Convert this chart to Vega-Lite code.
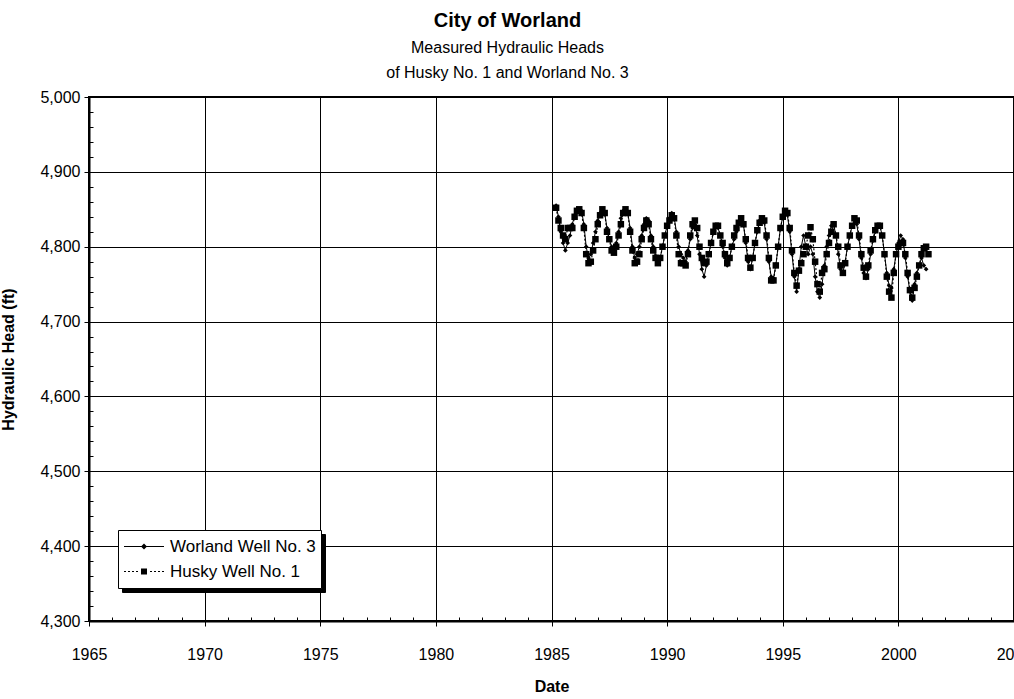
{
  "$schema": "https://vega.github.io/schema/vega-lite/v6.json",
  "width": 925,
  "height": 524,
  "autosize": {"type": "none"},
  "padding": {"left": 89, "top": 97, "right": 0, "bottom": 78},
  "background": "white",
  "config": {
    "view": {"stroke": "black", "strokeWidth": 2},
    "font": "Liberation Sans",
    "axis": {"labelFont": "Liberation Sans", "labelFontSize": 16, "labelColor": "black", "titleFont": "Liberation Sans", "titleFontSize": 16, "titleFontWeight": "bold", "titleColor": "black", "domainColor": "black", "domainWidth": 2, "tickColor": "black", "gridColor": "black", "gridWidth": 1, "labelOverlap": false, "labelBound": false, "labelFlush": false}
  },
  "title": {
    "text": "City of Worland",
    "subtitle": ["Measured Hydraulic Heads", "of Husky No. 1 and Worland No. 3"],
    "font": "Liberation Sans",
    "fontSize": 20,
    "fontWeight": "bold",
    "color": "black",
    "subtitleFont": "Liberation Sans",
    "subtitleFontSize": 16,
    "subtitleColor": "black",
    "subtitleLineHeight": 25,
    "subtitlePadding": 9,
    "anchor": "middle",
    "dx": -44,
    "offset": 8
  },
  "data": {"values": [
    {"year": 1985.2, "w": 4855, "h": 4852},
    {"year": 1985.3, "w": 4840, "h": 4835},
    {"year": 1985.4, "w": 4820, "h": 4825},
    {"year": 1985.5, "w": 4805, "h": 4815},
    {"year": 1985.6, "w": 4795, "h": 4810},
    {"year": 1985.7, "w": 4805, "h": 4825},
    {"year": 1985.8, "w": 4815, "h": 4825},
    {"year": 1985.9, "w": 4830, "h": 4825},
    {"year": 1986.0, "w": 4842, "h": 4840},
    {"year": 1986.1, "w": 4848, "h": 4848},
    {"year": 1986.2, "w": 4850, "h": 4850},
    {"year": 1986.3, "w": 4848, "h": 4845},
    {"year": 1986.4, "w": 4830, "h": 4825},
    {"year": 1986.5, "w": 4800, "h": 4790},
    {"year": 1986.6, "w": 4785, "h": 4778},
    {"year": 1986.7, "w": 4790, "h": 4780},
    {"year": 1986.8, "w": 4805, "h": 4795},
    {"year": 1986.9, "w": 4820, "h": 4810},
    {"year": 1987.0, "w": 4835, "h": 4830},
    {"year": 1987.1, "w": 4845, "h": 4842},
    {"year": 1987.2, "w": 4850, "h": 4850},
    {"year": 1987.3, "w": 4845, "h": 4845},
    {"year": 1987.4, "w": 4825, "h": 4820},
    {"year": 1987.5, "w": 4810, "h": 4810},
    {"year": 1987.6, "w": 4800, "h": 4795},
    {"year": 1987.7, "w": 4795, "h": 4792},
    {"year": 1987.8, "w": 4805, "h": 4800},
    {"year": 1987.9, "w": 4820, "h": 4815},
    {"year": 1988.0, "w": 4838, "h": 4830},
    {"year": 1988.1, "w": 4848, "h": 4845},
    {"year": 1988.2, "w": 4850, "h": 4850},
    {"year": 1988.3, "w": 4845, "h": 4845},
    {"year": 1988.4, "w": 4825, "h": 4820},
    {"year": 1988.5, "w": 4800, "h": 4795},
    {"year": 1988.6, "w": 4785, "h": 4778},
    {"year": 1988.7, "w": 4790, "h": 4780},
    {"year": 1988.8, "w": 4800, "h": 4790},
    {"year": 1988.9, "w": 4815, "h": 4810},
    {"year": 1989.0, "w": 4830, "h": 4825},
    {"year": 1989.1, "w": 4838, "h": 4835},
    {"year": 1989.2, "w": 4835, "h": 4830},
    {"year": 1989.3, "w": 4815, "h": 4810},
    {"year": 1989.4, "w": 4800, "h": 4795},
    {"year": 1989.5, "w": 4788, "h": 4785},
    {"year": 1989.6, "w": 4780, "h": 4778},
    {"year": 1989.7, "w": 4785, "h": 4785},
    {"year": 1989.8, "w": 4800, "h": 4800},
    {"year": 1989.9, "w": 4815, "h": 4815},
    {"year": 1990.0, "w": 4828, "h": 4828},
    {"year": 1990.1, "w": 4838, "h": 4835},
    {"year": 1990.2, "w": 4845, "h": 4842},
    {"year": 1990.3, "w": 4840, "h": 4838},
    {"year": 1990.4, "w": 4820, "h": 4815},
    {"year": 1990.5, "w": 4800, "h": 4790},
    {"year": 1990.6, "w": 4790, "h": 4778},
    {"year": 1990.7, "w": 4785, "h": 4778},
    {"year": 1990.8, "w": 4780, "h": 4775},
    {"year": 1990.9, "w": 4795, "h": 4790},
    {"year": 1991.0, "w": 4810, "h": 4815},
    {"year": 1991.1, "w": 4825, "h": 4830},
    {"year": 1991.2, "w": 4830, "h": 4835},
    {"year": 1991.3, "w": 4815, "h": 4825},
    {"year": 1991.4, "w": 4790, "h": 4800},
    {"year": 1991.5, "w": 4770, "h": 4785},
    {"year": 1991.6, "w": 4760, "h": 4778},
    {"year": 1991.7, "w": 4775, "h": 4780},
    {"year": 1991.8, "w": 4790, "h": 4790},
    {"year": 1991.9, "w": 4805, "h": 4805},
    {"year": 1992.0, "w": 4818, "h": 4820},
    {"year": 1992.1, "w": 4828, "h": 4828},
    {"year": 1992.2, "w": 4825, "h": 4828},
    {"year": 1992.3, "w": 4815, "h": 4815},
    {"year": 1992.4, "w": 4800, "h": 4805},
    {"year": 1992.5, "w": 4785, "h": 4790},
    {"year": 1992.6, "w": 4775, "h": 4778},
    {"year": 1992.7, "w": 4785, "h": 4785},
    {"year": 1992.8, "w": 4800, "h": 4800},
    {"year": 1992.9, "w": 4810, "h": 4815},
    {"year": 1993.0, "w": 4820, "h": 4825},
    {"year": 1993.1, "w": 4830, "h": 4832},
    {"year": 1993.2, "w": 4838, "h": 4838},
    {"year": 1993.3, "w": 4830, "h": 4830},
    {"year": 1993.4, "w": 4805, "h": 4810},
    {"year": 1993.5, "w": 4780, "h": 4785},
    {"year": 1993.6, "w": 4770, "h": 4772},
    {"year": 1993.7, "w": 4785, "h": 4785},
    {"year": 1993.8, "w": 4805, "h": 4805},
    {"year": 1993.9, "w": 4820, "h": 4822},
    {"year": 1994.0, "w": 4835, "h": 4832},
    {"year": 1994.1, "w": 4838, "h": 4838},
    {"year": 1994.2, "w": 4832, "h": 4835},
    {"year": 1994.3, "w": 4810, "h": 4815},
    {"year": 1994.4, "w": 4780, "h": 4785},
    {"year": 1994.5, "w": 4760, "h": 4755},
    {"year": 1994.6, "w": 4758, "h": 4755},
    {"year": 1994.7, "w": 4775, "h": 4775},
    {"year": 1994.8, "w": 4800, "h": 4800},
    {"year": 1994.9, "w": 4825, "h": 4825},
    {"year": 1995.0, "w": 4840, "h": 4840},
    {"year": 1995.1, "w": 4848, "h": 4848},
    {"year": 1995.2, "w": 4842, "h": 4845},
    {"year": 1995.3, "w": 4820, "h": 4825},
    {"year": 1995.4, "w": 4790, "h": 4795},
    {"year": 1995.5, "w": 4760, "h": 4765},
    {"year": 1995.6, "w": 4740, "h": 4748},
    {"year": 1995.7, "w": 4770, "h": 4768},
    {"year": 1995.8, "w": 4800, "h": 4778},
    {"year": 1995.9, "w": 4815, "h": 4790},
    {"year": 1996.0, "w": 4800, "h": 4800},
    {"year": 1996.1, "w": 4790, "h": 4815},
    {"year": 1996.2, "w": 4800, "h": 4826},
    {"year": 1996.3, "w": 4790, "h": 4810},
    {"year": 1996.4, "w": 4760, "h": 4780},
    {"year": 1996.5, "w": 4740, "h": 4750},
    {"year": 1996.6, "w": 4732, "h": 4740},
    {"year": 1996.7, "w": 4750, "h": 4765},
    {"year": 1996.8, "w": 4775, "h": 4770},
    {"year": 1996.9, "w": 4800, "h": 4790},
    {"year": 1997.0, "w": 4815, "h": 4805},
    {"year": 1997.1, "w": 4828, "h": 4820},
    {"year": 1997.2, "w": 4830, "h": 4830},
    {"year": 1997.3, "w": 4815, "h": 4815},
    {"year": 1997.4, "w": 4790, "h": 4800},
    {"year": 1997.5, "w": 4770, "h": 4775},
    {"year": 1997.6, "w": 4765, "h": 4765},
    {"year": 1997.7, "w": 4780, "h": 4778},
    {"year": 1997.8, "w": 4800, "h": 4800},
    {"year": 1997.9, "w": 4815, "h": 4815},
    {"year": 1998.0, "w": 4828, "h": 4828},
    {"year": 1998.1, "w": 4835, "h": 4838},
    {"year": 1998.2, "w": 4830, "h": 4835},
    {"year": 1998.3, "w": 4810, "h": 4815},
    {"year": 1998.4, "w": 4785, "h": 4790},
    {"year": 1998.5, "w": 4765, "h": 4772},
    {"year": 1998.6, "w": 4758, "h": 4760},
    {"year": 1998.7, "w": 4770, "h": 4775},
    {"year": 1998.8, "w": 4790, "h": 4795},
    {"year": 1998.9, "w": 4808, "h": 4810},
    {"year": 1999.0, "w": 4820, "h": 4822},
    {"year": 1999.1, "w": 4828, "h": 4828},
    {"year": 1999.2, "w": 4828, "h": 4828},
    {"year": 1999.3, "w": 4815, "h": 4815},
    {"year": 1999.4, "w": 4790, "h": 4790},
    {"year": 1999.5, "w": 4765, "h": 4760},
    {"year": 1999.6, "w": 4748, "h": 4740},
    {"year": 1999.7, "w": 4745, "h": 4732},
    {"year": 1999.8, "w": 4770, "h": 4765},
    {"year": 1999.9, "w": 4790, "h": 4790},
    {"year": 2000.0, "w": 4805, "h": 4800},
    {"year": 2000.1, "w": 4815, "h": 4805},
    {"year": 2000.2, "w": 4810, "h": 4805},
    {"year": 2000.3, "w": 4785, "h": 4790},
    {"year": 2000.4, "w": 4760, "h": 4765},
    {"year": 2000.5, "w": 4740, "h": 4742},
    {"year": 2000.6, "w": 4728, "h": 4732},
    {"year": 2000.7, "w": 4750, "h": 4745},
    {"year": 2000.8, "w": 4765, "h": 4760},
    {"year": 2000.9, "w": 4775, "h": 4775},
    {"year": 2001.0, "w": 4785, "h": 4790},
    {"year": 2001.1, "w": 4775, "h": 4798},
    {"year": 2001.2, "w": 4770, "h": 4800},
    {"year": 2001.3, "h": 4790}
  ]},
  "transform": [
    {"fold": ["w", "h"], "as": ["well", "head"]},
    {"filter": "isValid(datum.head)"}
  ],
  "encoding": {
    "x": {
      "field": "year", "type": "quantitative",
      "scale": {"domain": [1965, 2005], "nice": false, "zero": false},
      "axis": {
        "title": "Date",
        "titlePadding": 16,
        "values": [1965,1966,1967,1968,1969,1970,1971,1972,1973,1974,1975,1976,1977,1978,1979,1980,1981,1982,1983,1984,1985,1986,1987,1988,1989,1990,1991,1992,1993,1994,1995,1996,1997,1998,1999,2000,2001,2002,2003,2004,2005],
        "labelExpr": "datum.value % 5 === 0 ? '' + datum.value : ''",
        "labelPadding": 20,
        "gridOpacity": {"condition": {"test": "datum.value % 5 === 0", "value": 1}, "value": 0},
        "tickSize": {"condition": {"test": "datum.value % 5 === 0", "value": 5}, "value": -4}
      }
    },
    "y": {
      "field": "head", "type": "quantitative",
      "scale": {"domain": [4300, 5000], "nice": false, "zero": false},
      "axis": {
        "title": "Hydraulic Head (ft)",
        "titlePadding": 23,
        "values": [4300,4320,4340,4360,4380,4400,4420,4440,4460,4480,4500,4520,4540,4560,4580,4600,4620,4640,4660,4680,4700,4720,4740,4760,4780,4800,4820,4840,4860,4880,4900,4920,4940,4960,4980,5000],
        "labelExpr": "datum.value % 100 === 0 ? format(datum.value, ',') : ''",
        "labelPadding": 4,
        "gridOpacity": {"condition": {"test": "datum.value % 100 === 0", "value": 1}, "value": 0},
        "tickSize": {"condition": {"test": "datum.value % 100 === 0", "value": 5}, "value": -4}
      }
    }
  },
  "layer": [
    {
      "transform": [{"filter": "datum.well === 'w'"}],
      "mark": {"type": "line", "strokeWidth": 1},
      "encoding": {
        "color": {
          "field": "well", "type": "nominal",
          "scale": {"domain": ["h", "w"], "range": ["black", "black"]},
          "legend": {
            "title": null,
            "orient": "none",
            "legendX": 33,
            "legendY": 437,
            "strokeColor": "black",
            "fillColor": "black",
            "padding": 5,
            "symbolSize": 36300,
            "symbolType": "stroke",
            "clipHeight": 23,
            "rowPadding": 2,
            "labelFontSize": 1,
            "labelOffset": 0,
            "labelExpr": "''"
          }
        }
      }
    },
    {
      "transform": [{"filter": "datum.well === 'h'"}],
      "mark": {"type": "line", "color": "black", "strokeWidth": 1.2, "strokeDash": [2, 2]},
      "encoding": {}
    },
    {
      "mark": {"type": "point", "filled": true, "color": "black", "opacity": 1},
      "encoding": {
        "shape": {"condition": {"test": "datum.well === 'w'", "value": "diamond"}, "value": "square"},
        "size": {"condition": {"test": "datum.well === 'w'", "value": 22}, "value": 42}
      }
    },
    {
      "transform": [{"filter": "datum.year < 0"}],
      "mark": {"type": "point", "filled": true, "color": "black", "opacity": 1},
      "encoding": {
        "shape": {
          "field": "well", "type": "nominal",
          "scale": {"domain": ["w", "h"], "range": ["M-1,-0.025H1V0.025H-1ZM0,-0.15L0.15,0L0,0.15L-0.15,0Z", "M-1,-0.025H-0.9V0.025H-1ZM-0.8,-0.025H-0.7V0.025H-0.8ZM-0.6,-0.025H-0.5V0.025H-0.6ZM-0.4,-0.025H-0.3V0.025H-0.4ZM-0.15,-0.15H0.15V0.15H-0.15ZM0.3,-0.025H0.4V0.025H0.3ZM0.5,-0.025H0.6V0.025H0.5ZM0.7,-0.025H0.8V0.025H0.7ZM0.9,-0.025H1V0.025H0.9Z"]},
          "legend": {
            "title": null,
            "orient": "none",
            "legendX": 29,
            "legendY": 433,
            "strokeColor": "black",
            "fillColor": "white",
            "padding": 5,
            "symbolSize": 1600,
            "symbolFillColor": "black",
            "clipHeight": 23,
            "rowPadding": 2,
            "labelFont": "Liberation Sans",
            "labelFontSize": 17,
            "labelColor": "black",
            "labelOffset": 5,
            "labelExpr": "datum.value === 'w' ? 'Worland Well No. 3' : 'Husky Well No. 1'"
          }
        }
      }
    }
  ]
}
